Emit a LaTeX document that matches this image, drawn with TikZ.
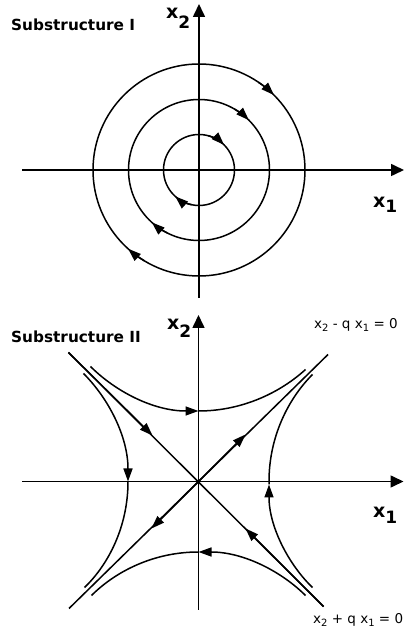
\documentclass[tikz,border=0pt]{standalone}
\usepackage{fontspec}
\setmainfont{DejaVu Sans}
\usetikzlibrary{arrows.meta}
\newcommand{\axlab}[3]{{\bfseries\fontsize{19}{19}\selectfont x}\raisebox{-#3pt}{\bfseries\fontsize{#2}{#2}\selectfont #1}}
\newcommand{\eqsub}[1]{\raisebox{-3pt}{\fontsize{10}{10}\selectfont #1}}
\begin{document}
\begin{tikzpicture}[x=1pt,y=1pt,
  axis/.style={line width=1.6pt,-{Triangle[length=13pt,width=12pt]}},
  curve/.style={line width=1.5pt},
  tipmark/.style={line width=1.5pt,-{Triangle[length=13pt,width=9pt]}},
  title/.style={anchor=base west,inner sep=0pt,font=\bfseries\fontsize{15.3}{15.3}\selectfont},
  lab/.style={anchor=base west,inner sep=0pt},
  eqn/.style={anchor=base west,inner sep=0pt,font=\fontsize{13.5}{13.5}\selectfont}]
\useasboundingbox (0,0) rectangle (404,635);
\fill[white] (0,0) rectangle (404,635);
% ---------- Substructure I ----------
\node[title] (t1) at (11,604) {Substructure I};
\begin{scope}[shift={(199,465)}]
  \coordinate (o1) at (0,0);
  \coordinate (l1) at (-177,0);
  \coordinate (r1) at (205,0);
  \coordinate (b1) at (0,-128);
  \coordinate (u1) at (0,166);
  \draw[axis] (l1) -- (r1);
  \draw[axis] (b1) -- (u1);
  \draw[curve] (o1) circle (106);
  \draw[curve] (o1) circle (70.5);
  \draw[curve] (o1) circle (35.5);
  \draw[tipmark] (56:106) arc (56:45:106);
  \draw[tipmark] (60:70.5) arc (60:45:70.5);
  \draw[tipmark] (75:35.5) arc (75:45:35.5);
  \draw[tipmark] (239:106) arc (239:228:106);
  \draw[tipmark] (243:70.5) arc (243:228:70.5);
  \draw[tipmark] (258:35.5) arc (258:228:35.5);
\end{scope}
\node[lab] (x2a) at (166,616) {\axlab{2}{17}{10}};
\node[lab] (x1a) at (373,427) {\axlab{1}{17}{5}};
% ---------- Substructure II ----------
\node[title] (t2) at (11,292) {Substructure II};
\begin{scope}[shift={(198.5,153.5)}]
  \coordinate (o2) at (0,0);
  \coordinate (l2) at (-176.5,0);
  \coordinate (r2) at (205,0);
  \coordinate (b2) at (0,-128.5);
  \coordinate (u2) at (0,166.5);
  \coordinate (nw) at (-130,129);
  \coordinate (se) at (125,-125);
  \coordinate (ne) at (129.5,127);
  \coordinate (sw) at (-129.5,-127);
  \draw[axis] (l2) -- (r2);
  \draw[axis] (b2) -- (u2);
  \draw[curve] (nw) -- (se);
  \draw[curve] (sw) -- (ne);
  % arrows on separatrices
  \draw[tipmark] (nw) -- (-46,46);
  \draw[tipmark] (se) -- (47,-47);
  \draw[tipmark] (o2) -- (47,47);
  \draw[tipmark] (o2) -- (-47,-47);
  % top curve (arrow to the right)
  \draw[tipmark] (-108,115) .. controls (-83,90) and (-45,70.5) .. (0,70.5);
  \draw[curve] (0,70.5) .. controls (45,70.5) and (83,90) .. (107,112);
  % bottom curve (arrow to the left)
  \draw[tipmark] (107,-114) .. controls (83,-90) and (45,-70.5) .. (0,-70.5);
  \draw[curve] (0,-70.5) .. controls (-45,-70.5) and (-83,-90) .. (-107,-114);
  % right curve (arrow up)
  \draw[tipmark] (114,-106) .. controls (90,-83) and (70.5,-45) .. (70.5,-3);
  \draw[curve] (70.5,-3) -- (70.5,0) .. controls (70.5,45) and (90,83) .. (114,107);
  % left curve (arrow down)
  \draw[tipmark] (-115,108) .. controls (-90,83) and (-70.5,45) .. (-70.5,0);
  \draw[curve] (-70.5,0) .. controls (-70.5,-45) and (-90,-83) .. (-114,-106);
\end{scope}
\node[lab] (x2b) at (167,305) {\axlab{2}{17}{8}};
\node[lab] (x1b) at (373,117) {\axlab{1}{17}{6}};
\node[eqn] (e1) at (314,306) {x\eqsub{2} - q x\eqsub{1} = 0};
\node[eqn] (e2) at (313,11) {x\eqsub{2} + q x\eqsub{1} = 0};
\end{tikzpicture}
\end{document}
